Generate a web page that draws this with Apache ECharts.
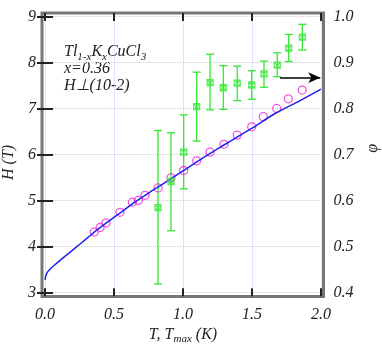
<!DOCTYPE html>
<html>
<head>
<meta charset="utf-8">
<script src="https://cdn.jsdelivr.net/npm/echarts@6/dist/echarts.min.js"></script>
<style>
  html, body { margin: 0; padding: 0; background: #fff; }
  #chart { width: 382px; height: 346px; }
</style>
</head>
<body>
<div id="chart"></div>
<script>
// H(T) data points (open circles)
const tCircles = [0.357, 0.399, 0.442, 0.543, 0.633, 0.676, 0.725, 0.819, 0.913, 1.005,
  1.099, 1.196, 1.297, 1.393, 1.498, 1.582, 1.679, 1.763, 1.864];
const hCircles = [4.31, 4.41, 4.51, 4.74, 4.96, 5.00, 5.11, 5.27, 5.49, 5.65,
  5.86, 6.05, 6.22, 6.42, 6.60, 6.82, 7.00, 7.21, 7.40];

// fitted curve
const tFit = [0, 0.006, 0.018, 0.036, 0.07, 0.109, 0.181, 0.254, 0.326, 0.386, 0.45, 0.55, 0.65, 0.75,
  0.85, 1.0, 1.1, 1.2, 1.3, 1.4, 1.5, 1.667, 1.848, 2.0];
const hFit = [3.27, 3.36, 3.44, 3.50, 3.595, 3.695, 3.87, 4.05, 4.23, 4.38, 4.52, 4.74, 4.96, 5.16,
  5.35, 5.64, 5.84, 6.03, 6.21, 6.39, 6.57, 6.89, 7.17, 7.42];

// phi at T_max with error bars (right axis)
const tPhi = [0.819, 0.913, 1.005, 1.099, 1.196, 1.292, 1.393, 1.498, 1.587, 1.683, 1.766, 1.865];
const phi = [0.584, 0.641, 0.705, 0.804, 0.856, 0.845, 0.855, 0.851, 0.875, 0.894, 0.931, 0.955];
const phiLow = [0.418, 0.534, 0.625, 0.729, 0.797, 0.798, 0.817, 0.820, 0.846, 0.869, 0.902, 0.927];
const phiHigh = [0.752, 0.747, 0.786, 0.879, 0.918, 0.893, 0.892, 0.882, 0.903, 0.921, 0.961, 0.983];

const leftArrow = { from: [0.433, 4.75], to: [-0.01, 4.75] };
const rightArrow = { from: [1.703, 0.867], to: [1.995, 0.867] };

const FONT = 'Liberation Serif';
const GREEN = '#33e633';
const MAGENTA = '#f02cd4';
const BLUE = '#2020ee';
const GRID_LINE = { show: true, lineStyle: { color: '#c2ccf4', type: 'dotted', width: 1 } };
const TICK = { show: true, inside: true, length: 8, lineStyle: { color: '#222', width: 2 } };
const LABEL = { fontFamily: FONT, fontStyle: 'italic', fontSize: 16, color: '#222' };

const chart = echarts.init(document.getElementById('chart'));

const option = {
  animation: false,
  grid: [
    { left: 45, top: 16.5, width: 276, height: 275.8, outerBoundsMode: 'none' },
    // outer frame
    { left: 42, top: 13, width: 281.5, height: 283.5, show: true, outerBoundsMode: 'none',
      borderColor: '#777', borderWidth: 3, backgroundColor: 'transparent' }
  ],
  xAxis: [
    {
      gridIndex: 0, type: 'value', min: 0, max: 2, interval: 0.5, position: 'bottom', offset: 4,
      axisLine: { show: false }, axisTick: TICK, splitLine: GRID_LINE,
      axisLabel: { ...LABEL, margin: 10, formatter: v => v.toFixed(1) },
      name: 'T, T{sub|max} (K)', nameLocation: 'middle', nameGap: 29,
      nameTextStyle: { ...LABEL, fontSize: 16,
        rich: { sub: { fontFamily: FONT, fontStyle: 'italic', fontSize: 11, color: '#222', padding: [7, 0, 0, 0] } } }
    },
    {
      gridIndex: 0, type: 'value', min: 0, max: 2, interval: 0.5, position: 'top', offset: 3.5,
      axisLine: { show: false }, axisTick: TICK, splitLine: { show: false }, axisLabel: { show: false }
    },
    { gridIndex: 1, type: 'value', show: false, min: 0, max: 1 }
  ],
  yAxis: [
    {
      gridIndex: 0, type: 'value', min: 3, max: 9, interval: 1, position: 'left', offset: 3,
      axisLine: { show: false }, axisTick: TICK, splitLine: GRID_LINE,
      axisLabel: { ...LABEL, margin: 6 },
      name: 'H (T)', nameLocation: 'middle', nameGap: 24,
      nameTextStyle: { ...LABEL, fontSize: 16, padding: [0, 16, 0, 0] }
    },
    {
      gridIndex: 0, type: 'value', min: 0.4, max: 1.0, interval: 0.1, position: 'right', offset: 2.5,
      axisLine: { show: false }, axisTick: TICK, splitLine: { show: false },
      axisLabel: { ...LABEL, margin: 10, formatter: v => v.toFixed(1) },
      name: 'φ', nameLocation: 'middle', nameGap: 33,
      nameTextStyle: { ...LABEL, fontSize: 16, padding: [0, 0, 0, 12] }
    },
    { gridIndex: 1, type: 'value', show: false, min: 0, max: 1 }
  ],
  graphic: [
    {
      type: 'text', left: 64, top: 43,
      style: {
        text: 'Tl{sub|1-x}K{sub|x}CuCl{sub|3}\nx=0.36\nH⊥(10-2)',
        fontFamily: FONT, fontStyle: 'italic', fontSize: 16, lineHeight: 17, fill: '#222',
        rich: {
          sub: { fontFamily: FONT, fontStyle: 'italic', fontSize: 11, fill: '#222',
            verticalAlign: 'top', padding: [9, 0, 0, 0] }
        }
      }
    }
  ],
  series: [
    {
      type: 'line', xAxisIndex: 0, yAxisIndex: 0, smooth: 0.3, symbol: 'none',
      lineStyle: { color: BLUE, width: 1.5 },
      data: tFit.map((t, i) => [t, hFit[i]]),
      markLine: {
        silent: true, symbol: ['none', 'arrow'], symbolSize: [8, 12],
        label: { show: false }, lineStyle: { color: '#000', width: 1.5, type: 'solid' },
        data: [[{ coord: leftArrow.from }, { coord: leftArrow.to }]]
      }
    },
    {
      type: 'scatter', xAxisIndex: 0, yAxisIndex: 0, symbol: 'circle', symbolSize: 8,
      itemStyle: { color: 'rgba(0,0,0,0)', borderColor: MAGENTA, borderWidth: 1.3 },
      data: tCircles.map((t, i) => [t, hCircles[i]])
    },
    {
      type: 'custom', xAxisIndex: 0, yAxisIndex: 1,
      encode: { x: 0, y: [2, 3] },
      data: tPhi.map((t, i) => [t, phi[i], phiLow[i], phiHigh[i]]),
      renderItem(params, api) {
        const x = api.value(0);
        const top = api.coord([x, api.value(3)]);
        const bot = api.coord([x, api.value(2)]);
        const w = 4;
        const st = { stroke: GREEN, lineWidth: 1.3 };
        return {
          type: 'group',
          children: [
            { type: 'line', shape: { x1: top[0], y1: top[1], x2: bot[0], y2: bot[1] }, style: st },
            { type: 'line', shape: { x1: top[0] - w, y1: top[1], x2: top[0] + w, y2: top[1] }, style: st },
            { type: 'line', shape: { x1: bot[0] - w, y1: bot[1], x2: bot[0] + w, y2: bot[1] }, style: st }
          ]
        };
      }
    },
    {
      type: 'scatter', xAxisIndex: 0, yAxisIndex: 1, z: 4,
      symbol: 'path://M0,0H10V10H0Z M0,0L10,10 M10,0L0,10', symbolSize: 6,
      itemStyle: { color: 'rgba(0,0,0,0)', borderColor: GREEN, borderWidth: 1.3 },
      data: tPhi.map((t, i) => [t, phi[i]]),
      markLine: {
        silent: true, symbol: ['none', 'arrow'], symbolSize: [8, 12],
        label: { show: false }, lineStyle: { color: '#000', width: 1.5, type: 'solid' },
        data: [[{ coord: rightArrow.from }, { coord: rightArrow.to }]]
      }
    }
  ]
};

chart.setOption(option);
window.addEventListener('resize', () => chart.resize());
</script>
</body>
</html>
